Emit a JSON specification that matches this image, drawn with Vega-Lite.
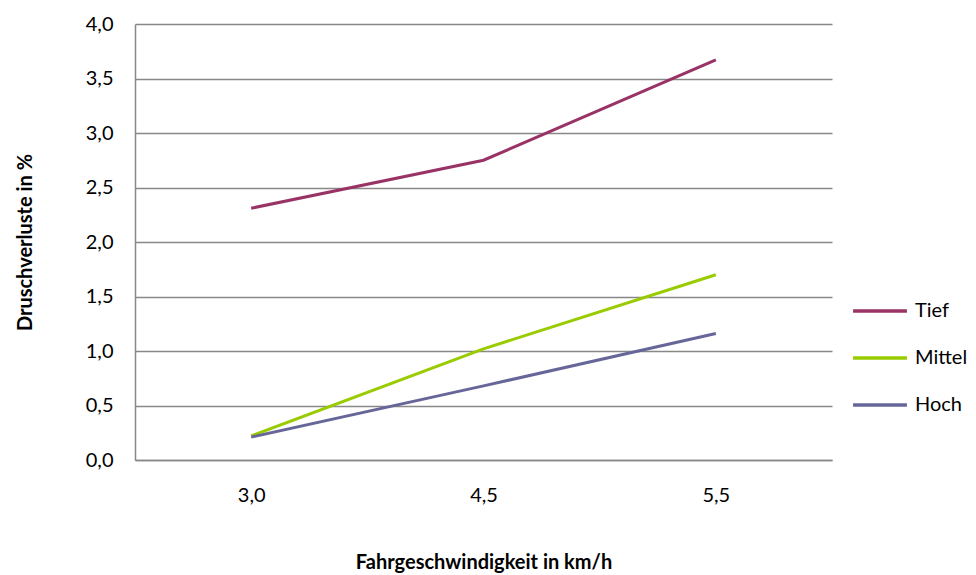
{
  "$schema": "https://vega.github.io/schema/vega-lite/v6.json",
  "width": 697,
  "height": 436,
  "autosize": {"type": "none"},
  "padding": {"left": 135, "top": 24, "right": 144, "bottom": 115},
  "background": "white",
  "config": {"view": {"stroke": null}, "font": "Lato"},
  "data": {
    "values": [
      {"speed": "3,0", "level": "Tief", "loss": 2.31},
      {"speed": "4,5", "level": "Tief", "loss": 2.75},
      {"speed": "5,5", "level": "Tief", "loss": 3.67},
      {"speed": "3,0", "level": "Mittel", "loss": 0.22},
      {"speed": "4,5", "level": "Mittel", "loss": 1.02},
      {"speed": "5,5", "level": "Mittel", "loss": 1.70},
      {"speed": "3,0", "level": "Hoch", "loss": 0.21},
      {"speed": "4,5", "level": "Hoch", "loss": 0.68},
      {"speed": "5,5", "level": "Hoch", "loss": 1.16}
    ]
  },
  "mark": {"type": "line", "strokeWidth": 3},
  "encoding": {
    "x": {
      "field": "speed",
      "type": "ordinal",
      "sort": null,
      "scale": {"type": "point", "padding": 0.5},
      "axis": {
        "title": "Fahrgeschwindigkeit in km/h",
        "labelAngle": 0,
        "ticks": false,
        "grid": false,
        "domainColor": "#888888",
        "domainWidth": 1.5,
        "labelFont": "Lato",
        "labelFontSize": 20,
        "labelColor": "#000000",
        "labelPadding": 25,
        "titleFont": "Lato",
        "titleFontSize": 20,
        "titleFontWeight": "bold",
        "titleColor": "#000000",
        "titlePadding": 47
      }
    },
    "y": {
      "field": "loss",
      "type": "quantitative",
      "scale": {"domain": [0, 4], "nice": false},
      "axis": {
        "title": "Druschverluste in %",
        "values": [0, 0.5, 1, 1.5, 2, 2.5, 3, 3.5, 4],
        "labelExpr": "replace(format(datum.value, '.1f'), '.', ',')",
        "ticks": false,
        "grid": true,
        "gridColor": "#888888",
        "gridWidth": 1.5,
        "domainColor": "#888888",
        "domainWidth": 1.5,
        "labelFont": "Lato",
        "labelFontSize": 20,
        "labelColor": "#000000",
        "labelPadding": 22,
        "titleFont": "Lato",
        "titleFontSize": 20,
        "titleFontWeight": "bold",
        "titleColor": "#000000",
        "titlePadding": 50
      }
    },
    "color": {
      "field": "level",
      "type": "nominal",
      "scale": {"domain": ["Tief", "Mittel", "Hoch"], "range": ["#993366", "#99cc00", "#666699"]},
      "legend": {
        "title": null,
        "orient": "none",
        "legendX": 716,
        "legendY": 258,
        "padding": 0,
        "symbolType": "stroke",
        "symbolSize": 2900,
        "symbolStrokeWidth": 3.5,
        "labelFont": "Lato",
        "labelFontSize": 20,
        "labelColor": "#000000",
        "labelOffset": 6,
        "rowPadding": 8
      }
    }
  }
}
